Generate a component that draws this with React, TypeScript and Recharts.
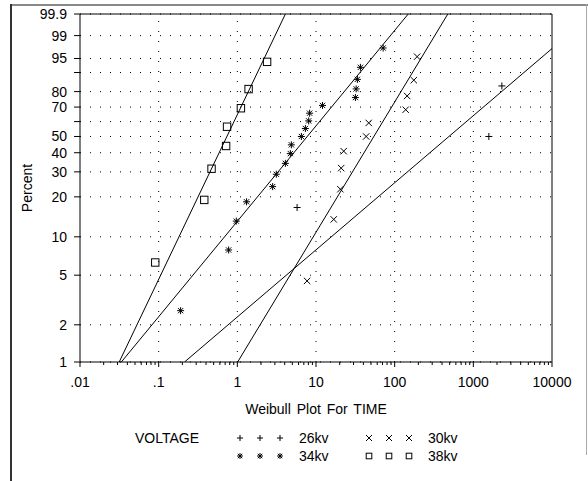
import React from 'react';
import {
    ScatterChart, Scatter, XAxis, YAxis, CartesianGrid, ReferenceLine
} from 'recharts';

// failure times and plotting positions (percent) per voltage
const time26 = [5.75, 1575, 2305];
const pct26 = [16.7, 50, 83.3];

const time30 = [7.7, 16.8, 20.4, 20.9, 22.5, 43.4, 46.8, 138, 144, 175, 193];
const pct30 = [4.5, 13.6, 22.7, 31.8, 40.9, 50, 59.1, 68.2, 77.3, 86.4, 95.5];

const time34 = [0.19, 0.775, 0.97, 1.31, 2.81, 3.13, 4.08, 4.72, 4.86, 6.52, 7.33, 8.07, 8.3, 12.1, 31.7, 32.4, 33.6, 36.7, 71.4];
const pct34 = [2.6, 7.9, 13.2, 18.4, 23.7, 28.9, 34.2, 39.5, 44.7, 50, 55.3, 60.5, 65.8, 71.1, 76.3, 81.6, 86.8, 92.1, 97.4];

const time38 = [0.0905, 0.38, 0.47, 0.72, 0.74, 1.11, 1.39, 2.39];
const pct38 = [6.3, 19, 31.5, 44, 56.5, 69.2, 81.5, 94];

// fitted weibull lines: shape and scale, in order 26, 30, 34, 38 kv
const fitShape = [0.547, 1.062, 0.778, 1.343];
const fitScale = [957, 76.8, 12.4, 0.968];

const yTickPct = [1, 2, 5, 10, 20, 30, 40, 50, 60, 70, 80, 90, 95, 99, 99.9];
const yTickLabels = ['1', '2', '5', '10', '20', '30', '40', '50', '', '70', '80', '', '95', '99', '99.9'];
const xDecades = [-2, -1, 0, 1, 2, 3, 4];
const xDecadeLabels = ['.01', '.1', '1', '10', '100', '1000', '10000'];

const FONT = '"Liberation Sans", Arial, Helvetica, sans-serif';

const weib = (pct: number) => Math.log(-Math.log(1 - pct / 100));
const W_MIN = weib(1);
const W_MAX = weib(99.9);
const yTickW = yTickPct.map(weib);

const xTicks: number[] = [];
for (let d = -2; d < 4; d++) {
    for (let k = 1; k < 10; k++) xTicks.push(d + Math.log10(k));
}
xTicks.push(4);

const toPoints = (times: number[], pcts: number[]) =>
    times.map((t, i) => ({ lx: Math.log10(t), w: weib(pcts[i]) }));

const fitLine = (shape: number, scale: number) => {
    const ls = Math.log10(scale);
    const lxAt = (w: number) => ls + w / (shape * Math.LN10);
    const wAt = (lx: number) => shape * Math.LN10 * (lx - ls);
    const lo = Math.max(-2, lxAt(W_MIN));
    const hi = Math.min(4, lxAt(W_MAX));
    return [{ lx: lo, w: wAt(lo) }, { lx: hi, w: wAt(hi) }];
};

const PlusMark = ({ cx, cy, r = 3.5 }: any) => (
    <path d={`M${cx - r},${cy}H${cx + r}M${cx},${cy - r}V${cy + r}`} stroke="#000" strokeWidth={1} fill="none" />
);
const CrossMark = ({ cx, cy, r = 3.2 }: any) => (
    <path d={`M${cx - r},${cy - r}L${cx + r},${cy + r}M${cx - r},${cy + r}L${cx + r},${cy - r}`} stroke="#000" strokeWidth={1} fill="none" />
);
const StarMark = ({ cx, cy, r = 3.5 }: any) => {
    const d = r * 0.75;
    return (
        <path
            d={`M${cx - r},${cy}H${cx + r}M${cx},${cy - r}V${cy + r}M${cx - d},${cy - d}L${cx + d},${cy + d}M${cx - d},${cy + d}L${cx + d},${cy - d}`}
            stroke="#000" strokeWidth={1} fill="none"
        />
    );
};
const SquareMark = ({ cx, cy, r = 3.7 }: any) => (
    <rect x={cx - r} y={cy - r} width={2 * r} height={2 * r} stroke="#000" strokeWidth={1} fill="none" />
);

const XTick = ({ x, y, payload }: any) => {
    const v = payload.value;
    const idx = xDecades.findIndex(d => Math.abs(d - v) < 1e-6);
    const major = idx >= 0;
    return (
        <g>
            <line x1={x} x2={x} y1={y} y2={y + (major ? 5 : 3)} stroke="#000" />
            {major && (
                <text x={x} y={y + 20} textAnchor="middle" dominantBaseline="central" fontSize={14} fontFamily={FONT} fill="#000">
                    {xDecadeLabels[idx]}
                </text>
            )}
        </g>
    );
};

const series = [
    { name: '26kv', pts: toPoints(time26, pct26), Mark: PlusMark },
    { name: '30kv', pts: toPoints(time30, pct30), Mark: CrossMark },
    { name: '34kv', pts: toPoints(time34, pct34), Mark: StarMark },
    { name: '38kv', pts: toPoints(time38, pct38), Mark: SquareMark },
];

const legendRows = [
    [series[0], series[1]],
    [series[2], series[3]],
];

export default function App() {
    return (
        <div style={{ position: 'absolute', left: 0, top: 0, width: 588, height: 481, background: '#fff' }}>
            <div style={{ position: 'absolute', left: 10, top: 4, width: 578, height: 2, background: '#888' }} />
            <div style={{ position: 'absolute', left: 10, top: 4, width: 2, height: 477, background: '#333' }} />
            <div style={{ position: 'absolute', left: 586, top: 4, width: 1, height: 451, background: '#aaa' }} />
            <div style={{ position: 'absolute', left: 0, top: 0 }}>
                <ScatterChart width={588} height={481} margin={{ top: 14, right: 36, left: 10, bottom: 89 }}>
                    <CartesianGrid vertical={false} stroke="#000" strokeDasharray="1 9" />
                    {xDecades.slice(1, -1).map(d => (
                        <ReferenceLine key={d} x={d} stroke="#000" strokeDasharray="1 9" />
                    ))}
                    <ReferenceLine y={W_MAX} stroke="#000" />
                    <ReferenceLine x={4} stroke="#000" />
                    <XAxis
                        type="number"
                        dataKey="lx"
                        domain={[-2, 4]}
                        ticks={xTicks}
                        interval={0}
                        height={30}
                        tickSize={0}
                        tickMargin={0}
                        tickLine={false}
                        tick={<XTick />}
                        axisLine={{ stroke: '#000' }}
                        allowDataOverflow
                    />
                    <YAxis
                        type="number"
                        dataKey="w"
                        domain={[W_MIN, W_MAX]}
                        ticks={yTickW}
                        interval={0}
                        width={70}
                        tickSize={6}
                        tickMargin={7}
                        tickLine={{ stroke: '#000' }}
                        axisLine={{ stroke: '#000' }}
                        tick={{ fill: '#000', fontSize: 14, fontFamily: FONT }}
                        tickFormatter={(v: number) => yTickLabels[yTickW.findIndex(t => Math.abs(t - v) < 1e-9)] ?? ''}
                        allowDataOverflow
                    />
                    {fitShape.map((s, i) => (
                        <Scatter
                            key={`fit-${i}`}
                            data={fitLine(s, fitScale[i])}
                            line={{ stroke: '#000', strokeWidth: 1 }}
                            shape={() => <g />}
                            isAnimationActive={false}
                        />
                    ))}
                    {series.map(s => (
                        <Scatter
                            key={s.name}
                            name={s.name}
                            data={s.pts}
                            shape={(p: any) => <s.Mark cx={p.cx} cy={p.cy} />}
                            isAnimationActive={false}
                        />
                    ))}
                </ScatterChart>
            </div>
            <svg width={588} height={481} style={{ position: 'absolute', left: 0, top: 0, pointerEvents: 'none' }}>
                <text x={27} y={188} transform="rotate(-90 27 188)" textAnchor="middle" dominantBaseline="central" fontSize={14} fontFamily={FONT} fill="#000">
                    Percent
                </text>
                <text x={316} y={409} textAnchor="middle" dominantBaseline="central" fontSize={14} fontFamily={FONT} fill="#000" style={{ wordSpacing: 2 }}>
                    Weibull Plot For TIME
                </text>
                <text x={135} y={438} dominantBaseline="central" fontSize={14} fontFamily={FONT} fill="#000">
                    VOLTAGE
                </text>
                {legendRows.map((row, ri) => {
                    const y = 438 + ri * 18;
                    return row.map((s, ci) => {
                        const x0 = 240 + ci * 129;
                        return (
                            <g key={s.name}>
                                {[0, 1, 2].map(k => (
                                    <s.Mark key={k} cx={x0 + k * 20} cy={y} r={s.Mark === SquareMark ? 2.8 : 3} />
                                ))}
                                <text x={x0 + 59} y={y} dominantBaseline="central" fontSize={14} fontFamily={FONT} fill="#000">
                                    {s.name}
                                </text>
                            </g>
                        );
                    });
                })}
            </svg>
        </div>
    );
}
